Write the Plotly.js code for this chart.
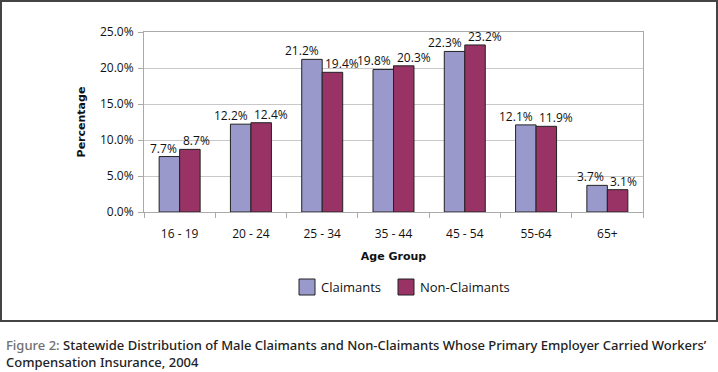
<!DOCTYPE html>
<html>
<head>
<meta charset="utf-8">
<script src="https://cdn.plot.ly/plotly-3.0.1.min.js"></script>
<style>
  html, body { margin: 0; padding: 0; background: #ffffff; }
  #chart { width: 718px; height: 372px; }
</style>
</head>
<body>
<div id="chart"></div>
<script>
// ---- data ----
const ageGroups = ["16 - 19", "20 - 24", "25 - 34", "35 - 44", "45 - 54", "55-64", "65+"];
const claimants = [7.7, 12.2, 21.2, 19.8, 22.3, 12.1, 3.7];
const nonClaimants = [8.7, 12.4, 19.4, 20.3, 23.2, 11.9, 3.1];
const seriesNames = ["Claimants", "Non-Claimants"];
const yTickVals = [0, 5, 10, 15, 20, 25];
const yTickText = ["0.0%", "5.0%", "10.0%", "15.0%", "20.0%", "25.0%"];
const captionLabel = "Figure 2:";
const captionText = "Statewide Distribution of Male Claimants and Non-Claimants Whose Primary Employer Carried Workers\u2019<br>Compensation Insurance, 2004";

// ---- layout constants (pixels) ----
const W = 718, H = 372;
const L = 144, R = 643, T = 32, B = 212;
const pw = R - L, ph = B - T;
const px = x => (x - L) / pw;       // pixel -> paper x
const py = y => (B - y) / ph;       // pixel -> paper y

const colors = ["#9999CC", "#993366"];
const fontMain = "'Open Sans', sans-serif";

const fmt = v => v.toFixed(1) + "%";
const seriesVals = [claimants, nonClaimants];

const traces = seriesVals.map((vals, i) => ({
  type: "bar",
  name: seriesNames[i],
  x: ageGroups,
  y: vals,
  cliponaxis: false,
  marker: { color: colors[i], line: { color: "#222", width: 1 } },
  showlegend: false,
  hoverinfo: "x+y"
}));

const annotations = [];
// data labels: claimants right-aligned, non-claimants left-aligned at the group centre
seriesVals.forEach((vals, i) => {
  vals.forEach((v, k) => {
    annotations.push({
      xref: "x", yref: "y", x: ageGroups[k], y: v,
      xanchor: i === 0 ? "right" : "left", yanchor: "bottom",
      xshift: i === 0 ? -1 : 1, yshift: -2,
      showarrow: false, text: fmt(v),
      font: { family: fontMain, size: 12, color: "#111" }
    });
  });
});

// custom legend
const legendItems = [
  { box: 299, text: 319 },
  { box: 398, text: 418 }
];
const shapes = [
  // outer frame
  { type: "rect", xref: "paper", yref: "paper",
    x0: px(1), x1: px(717), y0: py(1), y1: py(321),
    line: { color: "#444", width: 2 }, fillcolor: "rgba(0,0,0,0)", layer: "below" }
];
legendItems.forEach((it, i) => {
  shapes.push({ type: "rect", xref: "paper", yref: "paper",
    x0: px(it.box), x1: px(it.box + 16), y0: py(279), y1: py(295),
    fillcolor: colors[i], line: { color: "#222", width: 1 } });
  annotations.push({ xref: "paper", yref: "paper", x: px(it.text), y: py(287),
    xanchor: "left", yanchor: "middle", showarrow: false,
    text: seriesNames[i], font: { family: fontMain, size: 13, color: "#111" } });
});
// caption
annotations.push({
  xref: "paper", yref: "paper", x: px(4), y: py(334),
  xanchor: "left", yanchor: "top", align: "left", showarrow: false,
  text: "<span style='color:#707070'>" + captionLabel + "</span> " + captionText,
  font: { family: "'Noto Sans', sans-serif", size: 13, color: "#222", weight: 500 }
});

const layout = {
  width: W, height: H,
  margin: { l: L, r: W - R, t: T, b: H - B, pad: 0 },
  paper_bgcolor: "#ffffff",
  plot_bgcolor: "#ffffff",
  bargap: 0.425,
  bargroupgap: 0,
  barmode: "group",
  showlegend: false,
  font: { family: fontMain, size: 12, color: "#111" },
  xaxis: {
    type: "category",
    tickson: "boundaries",
    ticks: "outside", ticklen: 5, tickcolor: "#aaa",
    showline: true, linecolor: "#aaa", linewidth: 1, mirror: true,
    showgrid: false,
    tickfont: { family: fontMain, size: 12, color: "#111" },
    ticklabelstandoff: 11,
    title: { text: "Age Group", standoff: 10,
      font: { family: "'DejaVu Sans', sans-serif", size: 11, weight: "bold", color: "#111" } }
  },
  yaxis: {
    range: [0, 25],
    tickvals: yTickVals, ticktext: yTickText,
    ticks: "outside", ticklen: 5, tickcolor: "#aaa",
    showline: true, linecolor: "#aaa", linewidth: 1, mirror: true,
    showgrid: true, gridcolor: "#c8c8c8", gridwidth: 1,
    zeroline: false,
    tickfont: { family: fontMain, size: 12, color: "#111" },
    ticklabelstandoff: 2,
    title: { text: "Percentage", standoff: 12,
      font: { family: "'DejaVu Sans', sans-serif", size: 11, weight: "bold", color: "#111" } }
  },
  shapes: shapes,
  annotations: annotations
};

Plotly.newPlot("chart", traces, layout, { displayModeBar: false, staticPlot: true });
</script>
</body>
</html>
